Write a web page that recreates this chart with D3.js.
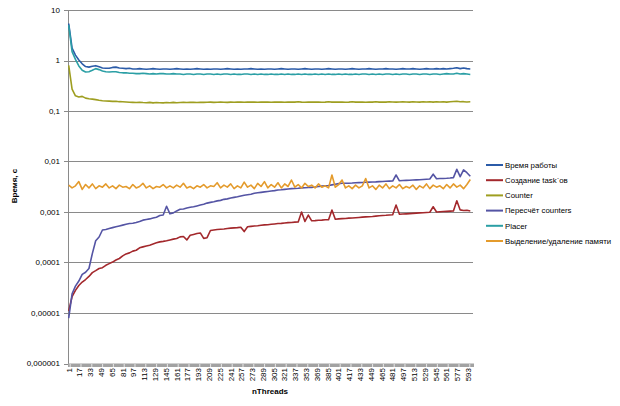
<!DOCTYPE html>
<meta charset="utf-8">
<head>
<style>
body { margin: 0; background: #fff; }
text { font-family: "Liberation Sans", Arial, sans-serif; fill: #000; }
.grid line { stroke: #8a8a8a; stroke-width: 1; shape-rendering: crispEdges; }
.series { fill: none; stroke-width: 1.6; stroke-linejoin: round; }
</style>
</head>
<body>
<svg width="620" height="406"></svg>
<script src="https://cdn.jsdelivr.net/npm/d3@7"></script>
<script>

// thread counts sampled every 5 threads (1, 6, 11 ... 596)
var threads = d3.range(1, 600, 5);

var xTicks = [1,17,33,49,65,81,97,113,129,145,161,177,193,209,225,241,257,273,289,305,321,337,353,369,385,401,417,433,449,465,481,497,513,529,545,561,577,593];
var yTicks = [1e-6, 1e-5, 1e-4, 1e-3, 1e-2, 1e-1, 1, 10];
var yTickLabels = ["0,000001","0,00001","0,0001","0,001","0,01","0,1","1","10"];

var names = ["Время работы", "Создание task`ов", "Counter", "Пересчёт counters", "Placer", "Выделение/удаление памяти"];
var colors = ["#2b5ba8", "#a3282c", "#9e9e20", "#5454a4", "#2b9fa5", "#e49b2c"];

var vremya = [5.4,1.75,1.28,1.02,0.86,0.76,0.74,0.77,0.79,0.75,0.71,0.70,0.70,0.73,0.74,0.71,0.70,0.69,0.70,0.68,
  0.68,0.69,0.68,0.67,0.68,0.69,0.68,0.67,0.68,0.68,0.67,0.68,0.69,0.68,0.67,0.68,0.67,0.68,0.69,0.68,
  0.67,0.68,0.67,0.68,0.68,0.67,0.68,0.69,0.68,0.67,0.68,0.67,0.68,0.68,0.69,0.68,0.67,0.68,0.67,0.68,
  0.68,0.67,0.68,0.69,0.68,0.67,0.68,0.68,0.67,0.68,0.69,0.68,0.67,0.68,0.68,0.67,0.68,0.69,0.68,0.67,
  0.68,0.68,0.67,0.68,0.69,0.68,0.67,0.68,0.68,0.69,0.68,0.67,0.68,0.68,0.69,0.68,0.68,0.67,0.68,0.69,
  0.68,0.68,0.69,0.68,0.67,0.68,0.69,0.68,0.68,0.69,0.68,0.69,0.68,0.69,0.70,0.72,0.69,0.71,0.69,0.68];

var sozdanie = [1.1e-5,2.1e-5,2.8e-5,3.5e-5,4.1e-5,4.6e-5,5.3e-5,6.3e-5,6.9e-5,7.6e-5,7.9e-5,8.8e-5,9.5e-5,1.02e-4,1.12e-4,1.2e-4,1.35e-4,1.48e-4,1.55e-4,1.68e-4,
  1.75e-4,1.95e-4,2.04e-4,2.12e-4,2.2e-4,2.32e-4,2.45e-4,2.56e-4,2.62e-4,2.7e-4,2.8e-4,2.9e-4,2.98e-4,3.22e-4,3.28e-4,2.8e-4,3.45e-4,3.6e-4,3.76e-4,3.85e-4,
  3.0e-4,3.1e-4,4.3e-4,4.4e-4,4.5e-4,4.55e-4,4.6e-4,4.7e-4,4.8e-4,4.85e-4,4.9e-4,5.0e-4,4.1e-4,5.1e-4,5.2e-4,5.3e-4,5.35e-4,5.45e-4,5.55e-4,5.6e-4,
  5.7e-4,5.8e-4,5.9e-4,5.95e-4,6.05e-4,6.15e-4,6.2e-4,6.3e-4,6.35e-4,1.0e-3,6.5e-4,8.7e-4,6.7e-4,6.75e-4,6.85e-4,6.9e-4,7.0e-4,7.05e-4,1.09e-3,7.2e-4,
  7.3e-4,7.4e-4,7.45e-4,7.55e-4,7.6e-4,7.7e-4,7.8e-4,7.9e-4,8.0e-4,8.05e-4,8.15e-4,8.3e-4,8.4e-4,8.5e-4,8.6e-4,8.75e-4,8.85e-4,1.37e-3,9.0e-4,9.1e-4,
  9.2e-4,9.3e-4,9.4e-4,9.5e-4,9.6e-4,9.65e-4,9.8e-4,9.9e-4,1.27e-3,1.0e-3,1.01e-3,1.02e-3,1.03e-3,1.04e-3,1.05e-3,1.67e-3,1.1e-3,1.07e-3,1.08e-3,1.05e-3];

var counter = [0.80,0.27,0.20,0.19,0.195,0.18,0.175,0.172,0.168,0.163,0.16,0.158,0.157,0.155,0.156,0.153,0.152,0.151,0.149,0.148,
  0.147,0.149,0.147,0.146,0.148,0.145,0.147,0.146,0.145,0.147,0.146,0.148,0.146,0.147,0.148,0.147,0.149,0.148,0.147,0.149,
  0.148,0.149,0.15,0.148,0.149,0.15,0.149,0.148,0.15,0.149,0.15,0.151,0.149,0.15,0.151,0.15,0.149,0.15,0.151,0.15,
  0.149,0.15,0.151,0.15,0.149,0.15,0.151,0.15,0.152,0.15,0.149,0.151,0.15,0.151,0.15,0.149,0.15,0.152,0.15,0.151,
  0.15,0.151,0.149,0.15,0.152,0.15,0.151,0.15,0.149,0.151,0.15,0.152,0.15,0.151,0.15,0.152,0.151,0.15,0.151,0.152,
  0.151,0.15,0.152,0.151,0.15,0.152,0.151,0.153,0.15,0.152,0.151,0.153,0.15,0.152,0.154,0.156,0.152,0.153,0.151,0.152];

var perescheet = [7.9e-6,2.4e-5,3.4e-5,4.3e-5,5.8e-5,6.4e-5,7.6e-5,1.5e-4,2.7e-4,3.2e-4,4.4e-4,4.5e-4,4.7e-4,4.9e-4,5.1e-4,5.3e-4,5.5e-4,5.7e-4,5.9e-4,6.0e-4,
  6.2e-4,6.5e-4,6.9e-4,7.1e-4,7.3e-4,7.6e-4,7.9e-4,8.5e-4,8.7e-4,1.3e-3,9.2e-4,9.6e-4,1.05e-3,1.13e-3,1.15e-3,1.2e-3,1.24e-3,1.27e-3,1.32e-3,1.37e-3,
  1.42e-3,1.5e-3,1.55e-3,1.6e-3,1.66e-3,1.7e-3,1.78e-3,1.82e-3,1.9e-3,1.95e-3,2.0e-3,2.08e-3,2.15e-3,2.2e-3,2.25e-3,2.35e-3,2.4e-3,2.45e-3,2.5e-3,2.55e-3,
  2.6e-3,2.65e-3,2.72e-3,2.75e-3,2.8e-3,2.85e-3,2.9e-3,2.92e-3,2.95e-3,3.0e-3,3.02e-3,3.05e-3,3.08e-3,3.12e-3,3.2e-3,3.25e-3,3.3e-3,3.35e-3,3.45e-3,3.55e-3,
  3.65e-3,3.7e-3,3.7e-3,3.72e-3,3.75e-3,3.8e-3,3.82e-3,3.85e-3,3.88e-3,3.9e-3,3.92e-3,3.95e-3,4.0e-3,4.02e-3,4.05e-3,4.08e-3,4.1e-3,5.4e-3,4.15e-3,4.2e-3,
  4.22e-3,4.25e-3,4.3e-3,4.32e-3,4.35e-3,4.4e-3,4.45e-3,4.5e-3,5.6e-3,4.55e-3,4.6e-3,4.62e-3,4.65e-3,4.7e-3,4.8e-3,7.0e-3,5.0e-3,6.8e-3,6.0e-3,5.1e-3];

var placer = [5.0,1.5,1.05,0.78,0.64,0.59,0.60,0.64,0.69,0.66,0.62,0.60,0.59,0.60,0.60,0.58,0.57,0.57,0.56,0.56,
  0.55,0.55,0.56,0.55,0.54,0.55,0.54,0.55,0.55,0.54,0.54,0.55,0.54,0.54,0.53,0.54,0.54,0.53,0.54,0.54,
  0.53,0.54,0.54,0.53,0.54,0.53,0.54,0.54,0.53,0.54,0.53,0.53,0.54,0.54,0.53,0.54,0.53,0.54,0.53,0.53,
  0.54,0.53,0.53,0.54,0.53,0.54,0.53,0.53,0.54,0.53,0.54,0.53,0.53,0.54,0.53,0.54,0.53,0.54,0.53,0.53,
  0.54,0.53,0.54,0.53,0.53,0.54,0.53,0.54,0.54,0.53,0.54,0.53,0.54,0.53,0.54,0.54,0.53,0.54,0.53,0.54,
  0.54,0.53,0.54,0.54,0.53,0.54,0.54,0.53,0.54,0.54,0.53,0.54,0.55,0.54,0.54,0.56,0.54,0.55,0.54,0.53];

var pamyat = [3.4e-3,3.0e-3,3.3e-3,4.0e-3,2.8e-3,3.5e-3,3.0e-3,3.6e-3,2.9e-3,3.3e-3,3.1e-3,3.6e-3,3.0e-3,3.3e-3,2.9e-3,3.4e-3,3.1e-3,3.2e-3,2.9e-3,3.5e-3,
  3.0e-3,3.2e-3,3.7e-3,3.0e-3,3.3e-3,2.9e-3,3.2e-3,3.1e-3,3.5e-3,3.0e-3,3.3e-3,3.0e-3,3.4e-3,3.1e-3,3.7e-3,3.0e-3,3.2e-3,2.9e-3,3.3e-3,3.1e-3,
  3.5e-3,3.0e-3,3.3e-3,3.2e-3,3.8e-3,3.0e-3,3.4e-3,3.1e-3,3.6e-3,2.9e-3,3.3e-3,3.0e-3,3.9e-3,3.1e-3,3.4e-3,2.9e-3,3.7e-3,3.2e-3,4.0e-3,3.0e-3,
  3.5e-3,3.1e-3,3.8e-3,3.0e-3,3.6e-3,3.2e-3,4.3e-3,3.1e-3,3.5e-3,3.0e-3,3.7e-3,3.2e-3,3.4e-3,3.0e-3,3.6e-3,3.1e-3,3.3e-3,3.0e-3,5.4e-3,3.1e-3,
  3.5e-3,4.3e-3,3.0e-3,3.3e-3,2.9e-3,3.4e-3,3.0e-3,3.3e-3,4.6e-3,3.0e-3,3.3e-3,2.8e-3,3.4e-3,3.0e-3,3.6e-3,2.9e-3,3.3e-3,3.0e-3,3.5e-3,2.9e-3,
  3.2e-3,3.0e-3,3.4e-3,2.8e-3,3.3e-3,3.0e-3,3.6e-3,2.9e-3,3.4e-3,3.1e-3,3.3e-3,2.9e-3,3.5e-3,3.0e-3,3.6e-3,3.1e-3,3.4e-3,2.9e-3,3.5e-3,4.4e-3];

var seriesValues = [vremya, sozdanie, counter, perescheet, placer, pamyat];

var svg = d3.select("svg");

var x = d3.scaleLinear().domain([1, 600]).range([68.7, 473]);
var y = d3.scaleLog().domain([1e-6, 10]).range([363.5, 10]);

var left = 68, right = 473;

// gridlines
svg.append("g").attr("class", "grid")
  .selectAll("line")
  .data(yTicks)
  .enter().append("line")
    .attr("x1", left - 4)
    .attr("x2", right)
    .attr("y1", function(d) { return Math.round(y(d)) + 0.5; })
    .attr("y2", function(d) { return Math.round(y(d)) + 0.5; });

// left axis line
svg.append("line")
  .attr("x1", left + 0.5).attr("x2", left + 0.5)
  .attr("y1", y(10)).attr("y2", y(1e-6) + 1)
  .style("stroke", "#8a8a8a");

svg.append("g")
  .selectAll("text")
  .data(yTicks)
  .enter().append("text")
    .attr("x", 60)
    .attr("y", function(d) { return y(d); })
    .attr("dy", "0.35em")
    .attr("text-anchor", "end")
    .style("font-size", "8px")
    .text(function(d, i) { return yTickLabels[i]; });

svg.append("text")
  .attr("transform", "translate(17,186) rotate(-90)")
  .attr("text-anchor", "middle")
  .style("font-size", "8px")
  .style("font-weight", "bold")
  .text("Время, с");

// x axis band with category ticks
svg.append("rect")
  .attr("x", left).attr("y", 363.5)
  .attr("width", right - left + 1).attr("height", 3.5)
  .style("fill", "#a2a2a2");

svg.append("g")
  .selectAll("line")
  .data(xTicks)
  .enter().append("line")
    .attr("x1", function(d) { return x(d) + 1.5; })
    .attr("x2", function(d) { return x(d) + 1.5; })
    .attr("y1", 364).attr("y2", 367)
    .style("stroke", "#e6e6e6")
    .style("stroke-width", 1);

svg.append("g")
  .selectAll("text")
  .data(xTicks)
  .enter().append("text")
    .attr("transform", function(d) { return "translate(" + x(d) + ",368) rotate(-90)"; })
    .attr("dy", "0.35em")
    .attr("text-anchor", "end")
    .style("font-size", "8px")
    .text(function(d) { return d; });

svg.append("text")
  .attr("x", 270).attr("y", 394)
  .attr("text-anchor", "middle")
  .style("font-size", "8px")
  .style("font-weight", "bold")
  .text("nThreads");

// series
var line = d3.line()
  .x(function(d, i) { return x(threads[i]); })
  .y(function(d) { return y(d); });

svg.append("g")
  .selectAll("path")
  .data(seriesValues)
  .enter().append("path")
    .attr("class", "series")
    .attr("d", line)
    .style("stroke", function(d, i) { return colors[i]; });

// legend
var legend = svg.append("g")
  .selectAll("g")
  .data(names)
  .enter().append("g")
    .attr("transform", function(d, i) { return "translate(486," + (165 + i * 15.2) + ")"; });

legend.append("line")
  .attr("x1", 0).attr("x2", 17)
  .style("stroke", function(d, i) { return colors[i]; })
  .style("stroke-width", 2);

legend.append("text")
  .attr("x", 19)
  .attr("dy", "0.35em")
  .style("font-size", "7.8px")
  .text(function(d) { return d; });

</script>
</body>
